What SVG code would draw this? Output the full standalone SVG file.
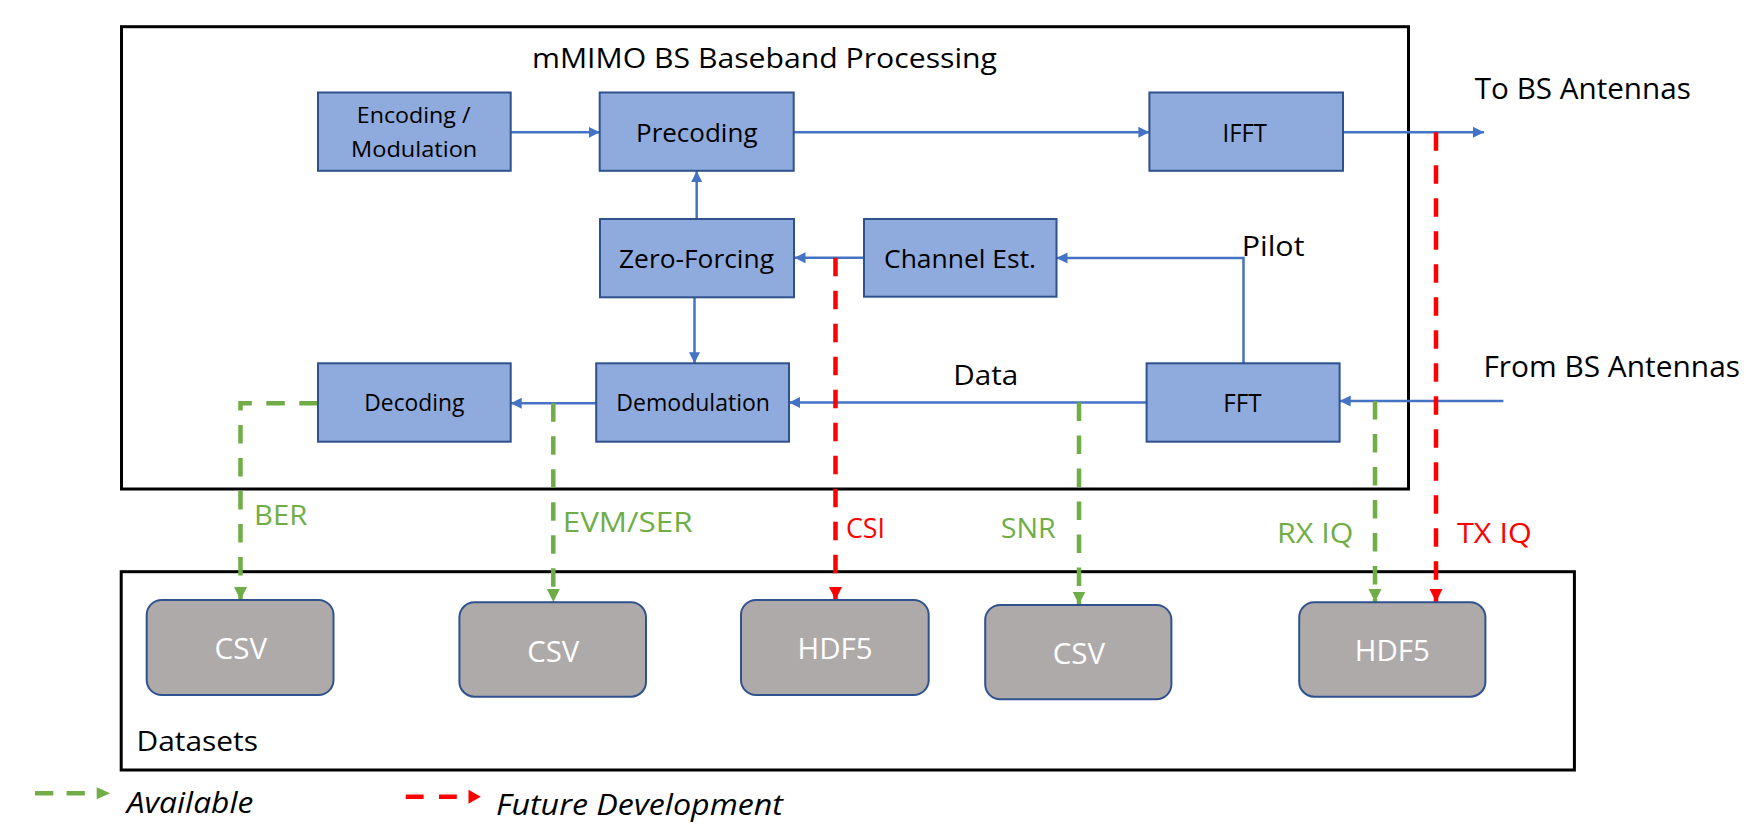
<svg xmlns="http://www.w3.org/2000/svg" width="1746" height="832" viewBox="0 0 1746 832">
<style>
text{font-family:"Open Sans","Noto Sans","Liberation Sans",sans-serif;fill:#000}
.box{fill:#8FAADC;stroke:#2F528F;stroke-width:2}
.ds{fill:#AEAAAA;stroke:#2F528F;stroke-width:2}
.frame{fill:none;stroke:#000;stroke-width:3}
.bl{fill:none;stroke:#4472C4;stroke-width:2.5}
.gr{fill:none;stroke:#70AD47;stroke-width:4.5;stroke-dasharray:18.5 14.5}
.rd{fill:none;stroke:#FF0000;stroke-width:4.5;stroke-dasharray:18.5 14.5}
.wt{fill:#fff}
.gt{fill:#70AD47}
.rt{fill:#FF0000}
.it{font-style:italic}
</style>
<defs>
<marker id="ab" markerUnits="userSpaceOnUse" markerWidth="12" markerHeight="12" refX="11" refY="6" orient="auto"><path d="M0,0.5 L11,6 L0,11.5 z" fill="#4472C4"/></marker>
<marker id="ag" markerUnits="userSpaceOnUse" markerWidth="14" markerHeight="14" refX="13" refY="6.5" orient="auto"><path d="M0,0 L13,6.5 L0,13 z" fill="#70AD47"/></marker>
<marker id="ar" markerUnits="userSpaceOnUse" markerWidth="14" markerHeight="14" refX="13" refY="6.5" orient="auto"><path d="M0,0 L13,6.5 L0,13 z" fill="#FF0000"/></marker>
</defs>

<g id="baseband-container">
<rect class="frame" x="121.5" y="26.7" width="1287" height="462.3"/>
<text x="532" y="68" font-size="28" textLength="465" lengthAdjust="spacingAndGlyphs">mMIMO BS Baseband Processing</text>
</g>
<g id="datasets-container">
<rect class="frame" x="121.2" y="571.7" width="1453.2" height="198.3"/>
<text x="136.5" y="751" font-size="27" textLength="121.5" lengthAdjust="spacingAndGlyphs">Datasets</text>
</g>

<g id="connectors">
<path class="bl" d="M510.7,132.3 H599.7" marker-end="url(#ab)"/>
<path class="bl" d="M793.7,132.3 H1149.4" marker-end="url(#ab)"/>
<path class="bl" d="M1343,132.3 H1484" marker-end="url(#ab)"/>
<path class="bl" d="M696.7,219 V171" marker-end="url(#ab)"/>
<path class="bl" d="M864,257.7 H794.5" marker-end="url(#ab)"/>
<path class="bl" d="M1243.5,363.3 V258 H1056.5" marker-end="url(#ab)"/>
<path class="bl" d="M1503.4,401 H1339.7" marker-end="url(#ab)"/>
<path class="bl" d="M1146.6,402.5 H789" marker-end="url(#ab)"/>
<path class="bl" d="M596.2,403.3 H510.7" marker-end="url(#ab)"/>
<path class="bl" d="M694.5,297.3 V363.3" marker-end="url(#ab)"/>

<path class="gr" d="M317.8,403.3 H240.5 V600" marker-end="url(#ag)"/>
<path class="gr" d="M553.3,403.3 V602" marker-end="url(#ag)"/>
<path class="gr" d="M1079,402.5 V604.5" marker-end="url(#ag)"/>
<path class="gr" d="M1375,401 V602" marker-end="url(#ag)"/>
<path class="rd" d="M835.5,257.7 V600" marker-end="url(#ar)"/>
<path class="rd" d="M1436,132.3 V602" marker-end="url(#ar)"/>

<text class="gt" x="254" y="525" font-size="28" textLength="53.3" lengthAdjust="spacingAndGlyphs">BER</text>
<text class="gt" x="562.7" y="531.7" font-size="28" textLength="130" lengthAdjust="spacingAndGlyphs">EVM/SER</text>
<text class="rt" x="846" y="538.3" font-size="28" textLength="39" lengthAdjust="spacingAndGlyphs">CSI</text>
<text class="gt" x="1000.8" y="538.3" font-size="28" textLength="55" lengthAdjust="spacingAndGlyphs">SNR</text>
<text class="gt" x="1277" y="543.3" font-size="28" textLength="76.3" lengthAdjust="spacingAndGlyphs">RX IQ</text>
<text class="rt" x="1457" y="543.3" font-size="28" textLength="74.7" lengthAdjust="spacingAndGlyphs">TX IQ</text>
<text x="1241.7" y="256" font-size="28" textLength="62.8" lengthAdjust="spacingAndGlyphs">Pilot</text>
<text x="953.3" y="385" font-size="28" textLength="65" lengthAdjust="spacingAndGlyphs">Data</text>
<text x="1474.8" y="99.3" font-size="29" textLength="216" lengthAdjust="spacingAndGlyphs">To BS Antennas</text>
<text x="1483.4" y="376.7" font-size="29" textLength="256.6" lengthAdjust="spacingAndGlyphs">From BS Antennas</text>
</g>

<g id="encoding">
<rect class="box" x="318" y="92.5" width="192.7" height="78.3"/>
<text x="356.8" y="123.3" font-size="22" textLength="113.7" lengthAdjust="spacingAndGlyphs">Encoding /</text>
<text x="351" y="156.7" font-size="22" textLength="126.3" lengthAdjust="spacingAndGlyphs">Modulation</text>
</g>
<g id="precoding">
<rect class="box" x="599.7" y="92.5" width="194" height="78.3"/>
<text x="636" y="141.7" font-size="25" textLength="121.5" lengthAdjust="spacingAndGlyphs">Precoding</text>
</g>
<g id="ifft">
<rect class="box" x="1149.4" y="92.5" width="193.6" height="78.3"/>
<text x="1222.5" y="142.3" font-size="26" textLength="44.5" lengthAdjust="spacingAndGlyphs">IFFT</text>
</g>
<g id="zero-forcing">
<rect class="box" x="600" y="219" width="194" height="78.3"/>
<text x="619" y="268.3" font-size="25" textLength="155" lengthAdjust="spacingAndGlyphs">Zero-Forcing</text>
</g>
<g id="channel-est">
<rect class="box" x="864" y="219" width="192.5" height="77.7"/>
<text x="884" y="268.3" font-size="25" textLength="152" lengthAdjust="spacingAndGlyphs">Channel Est.</text>
</g>
<g id="decoding">
<rect class="box" x="318" y="363.3" width="192.7" height="78.4"/>
<text x="364.3" y="411" font-size="23" textLength="100" lengthAdjust="spacingAndGlyphs">Decoding</text>
</g>
<g id="demodulation">
<rect class="box" x="596.2" y="363.3" width="192.8" height="78.4"/>
<text x="616.3" y="411" font-size="23" textLength="153.7" lengthAdjust="spacingAndGlyphs">Demodulation</text>
</g>
<g id="fft">
<rect class="box" x="1146.6" y="363.3" width="193" height="78.4"/>
<text x="1223.3" y="411.7" font-size="26" textLength="38.3" lengthAdjust="spacingAndGlyphs">FFT</text>
</g>

<g id="csv-ber">
<rect class="ds" x="146.7" y="600" width="186.8" height="95" rx="15"/>
<text class="wt" x="214.6" y="659" font-size="30" textLength="52.5" lengthAdjust="spacingAndGlyphs">CSV</text>
</g>
<g id="csv-evm">
<rect class="ds" x="459.4" y="602.3" width="186.6" height="94.4" rx="15"/>
<text class="wt" x="527.2" y="661.7" font-size="30" textLength="52" lengthAdjust="spacingAndGlyphs">CSV</text>
</g>
<g id="hdf5-csi">
<rect class="ds" x="741" y="600" width="187.7" height="95" rx="15"/>
<text class="wt" x="797.5" y="659" font-size="30" textLength="75" lengthAdjust="spacingAndGlyphs">HDF5</text>
</g>
<g id="csv-snr">
<rect class="ds" x="985.2" y="605" width="186.2" height="94.3" rx="15"/>
<text class="wt" x="1052.7" y="664" font-size="30" textLength="52.3" lengthAdjust="spacingAndGlyphs">CSV</text>
</g>
<g id="hdf5-iq">
<rect class="ds" x="1299.2" y="602.3" width="186.2" height="94.4" rx="15"/>
<text class="wt" x="1354.8" y="660.7" font-size="30" textLength="75" lengthAdjust="spacingAndGlyphs">HDF5</text>
</g>

<g id="legend">
<path d="M35,793.3 H96" fill="none" stroke="#70AD47" stroke-width="4.5" stroke-dasharray="18.3 13.3"/>
<path d="M96.7,787.3 L110,793.3 L96.7,799.3 z" fill="#70AD47"/>
<text class="it" x="126.7" y="813.3" font-size="30" textLength="126.6" lengthAdjust="spacingAndGlyphs">Available</text>
<path d="M405.8,796.7 H466" fill="none" stroke="#FF0000" stroke-width="4.5" stroke-dasharray="17.8 15.4"/>
<path d="M468.5,789.7 L480.8,796.7 L468.5,803.7 z" fill="#FF0000"/>
<text class="it" x="496" y="815" font-size="30" textLength="287" lengthAdjust="spacingAndGlyphs">Future Development</text>
</g>
</svg>
